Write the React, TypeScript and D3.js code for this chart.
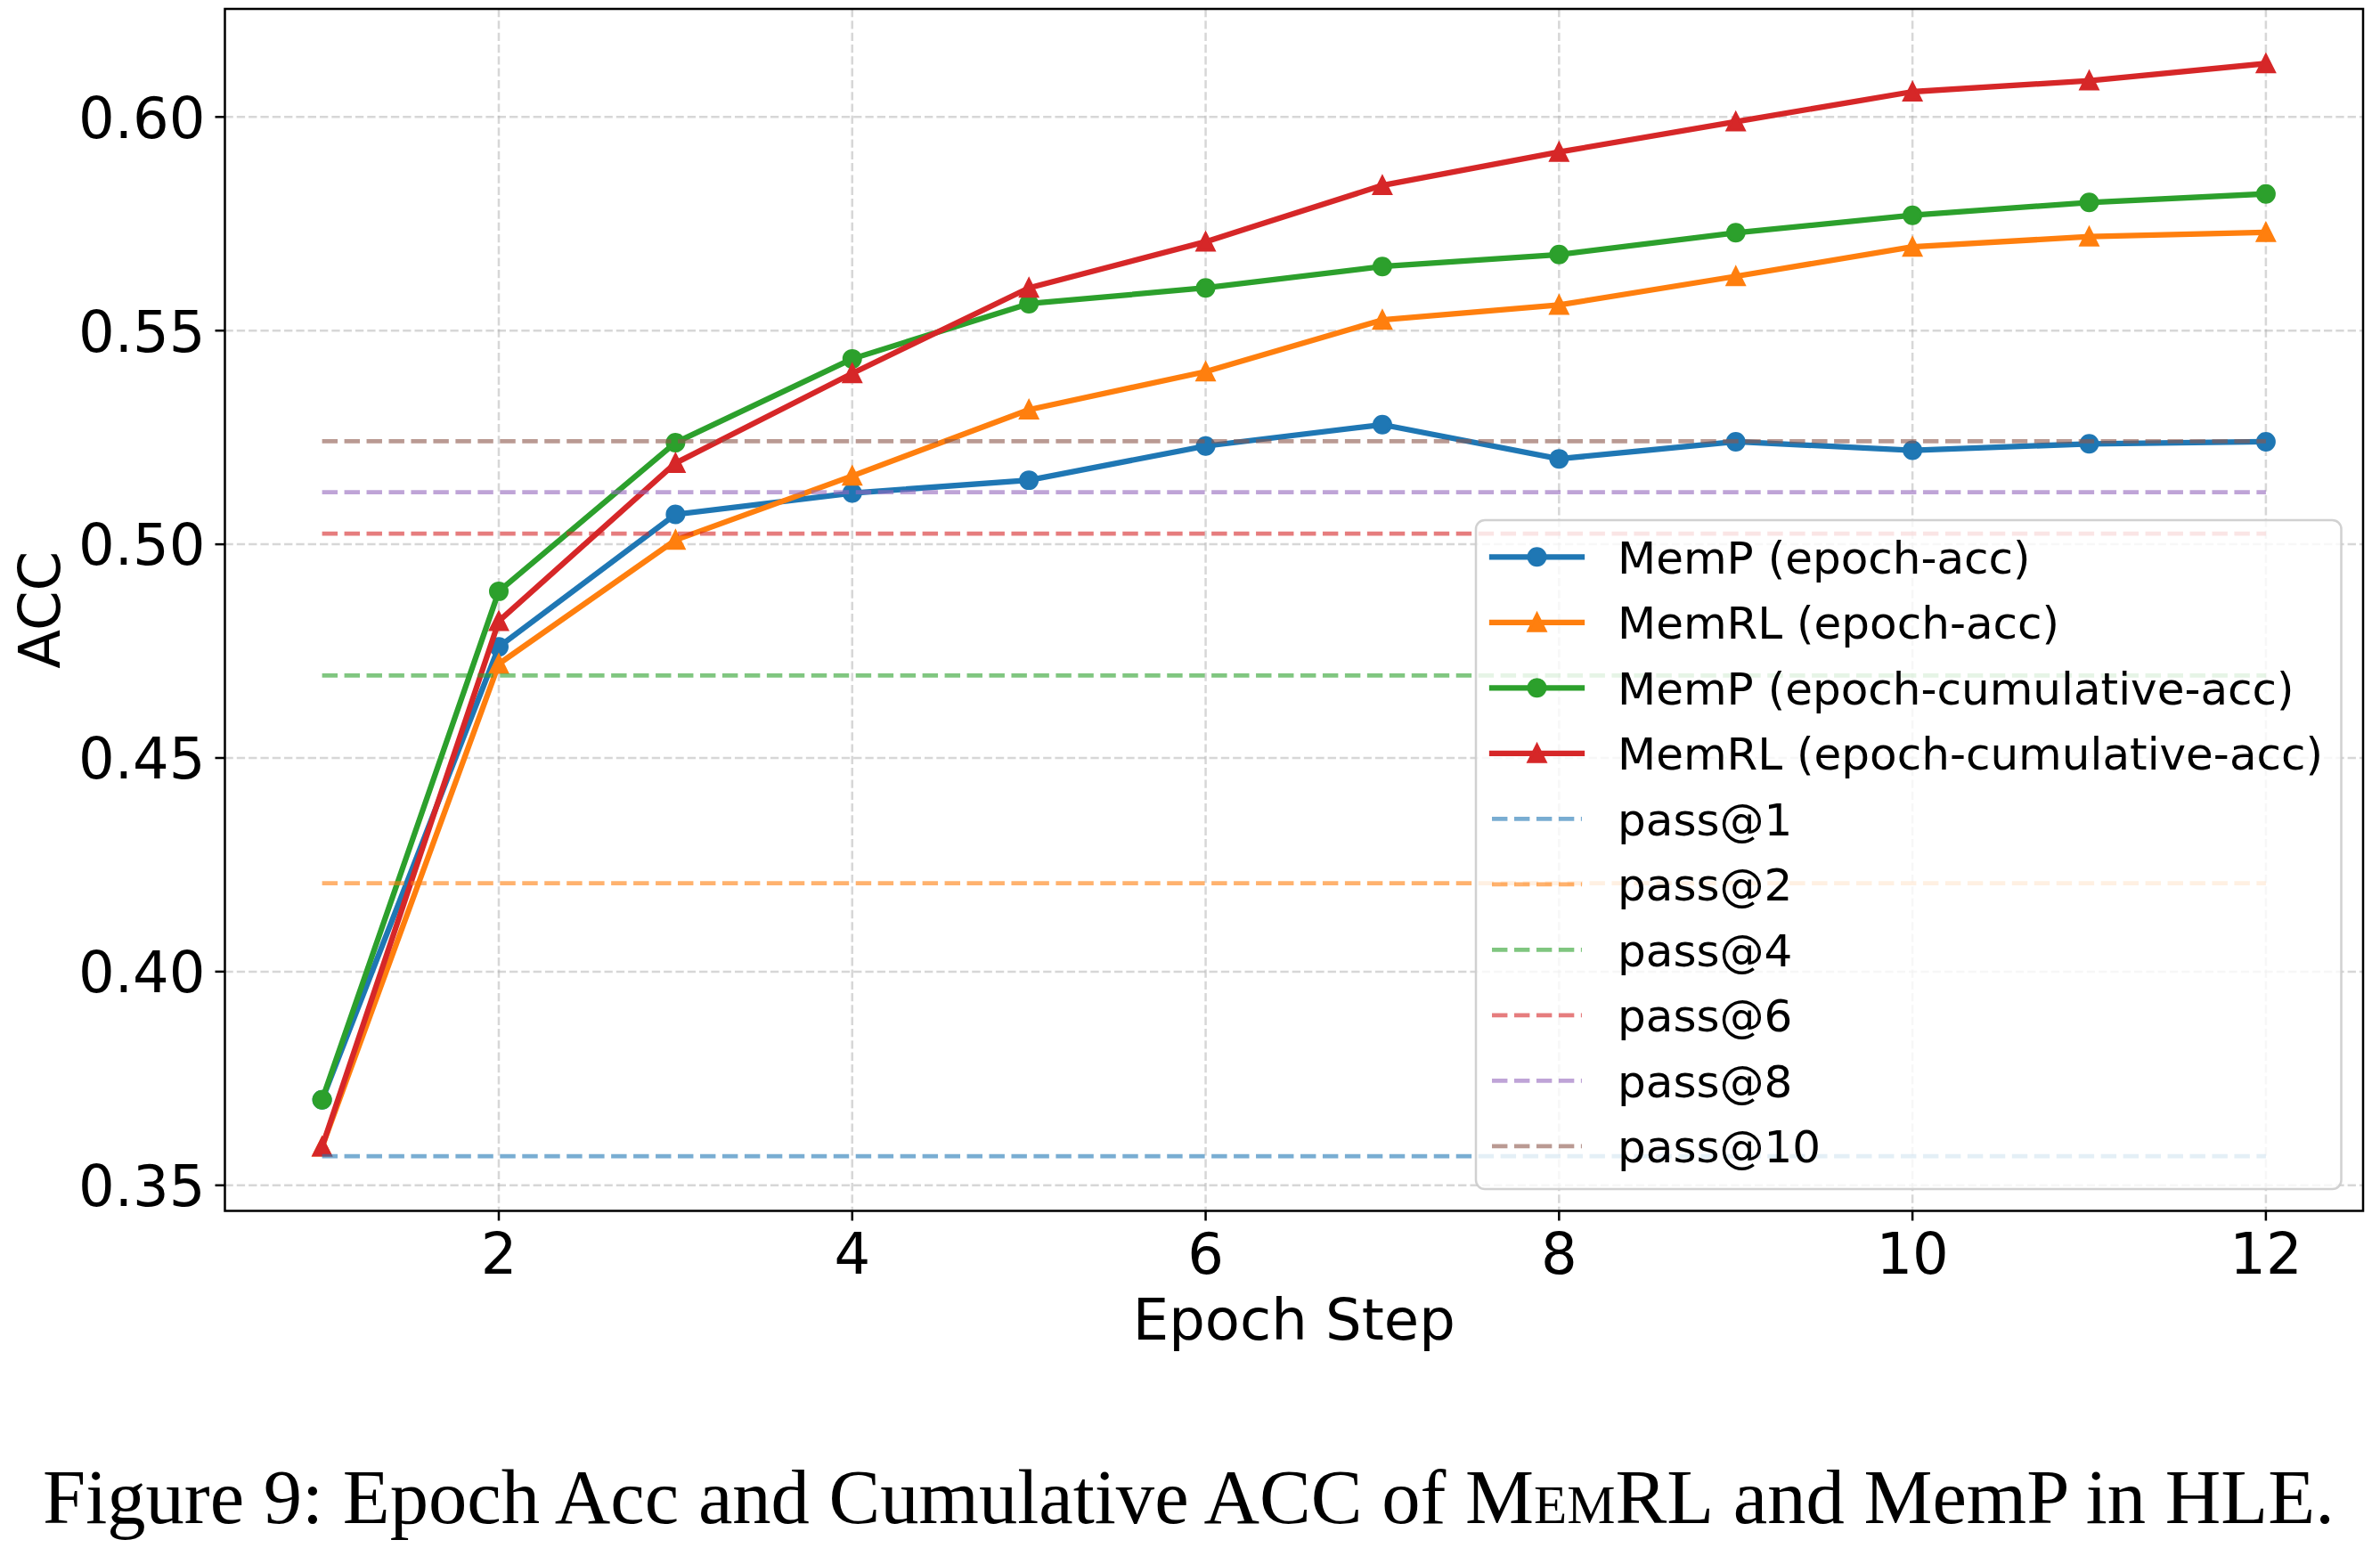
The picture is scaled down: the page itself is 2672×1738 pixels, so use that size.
import React from "react";
import * as d3 from "d3";

const epochs = [1, 2, 3, 4, 5, 6, 7, 8, 9, 10, 11, 12];
const mempEpochAcc = [0.370, 0.476, 0.507, 0.512, 0.515, 0.523, 0.528, 0.520, 0.524, 0.522, 0.5235, 0.524];
const memrlEpochAcc = [0.359, 0.472, 0.501, 0.516, 0.5315, 0.5404, 0.5525, 0.556, 0.5627, 0.5696, 0.572, 0.573];
const mempCumAcc = [0.370, 0.489, 0.5238, 0.5434, 0.5563, 0.560, 0.565, 0.5678, 0.5729, 0.577, 0.580, 0.582];
const memrlCumAcc = [0.359, 0.482, 0.519, 0.540, 0.560, 0.5708, 0.584, 0.5918, 0.5989, 0.6059, 0.6085, 0.6125];

const passLabels = ["pass@1", "pass@2", "pass@4", "pass@6", "pass@8", "pass@10"];
const passValues = [0.3568, 0.4207, 0.4693, 0.5025, 0.5122, 0.5241];
const passColors = ["#1f77b4", "#ff7f0e", "#2ca02c", "#d62728", "#9467bd", "#8c564b"];

const seriesLabels = ["MemP (epoch-acc)", "MemRL (epoch-acc)", "MemP (epoch-cumulative-acc)", "MemRL (epoch-cumulative-acc)"];
const seriesColors = ["#1f77b4", "#ff7f0e", "#2ca02c", "#d62728"];
const seriesMarkers = ["circle", "triangle", "circle", "triangle"];
const seriesData = [mempEpochAcc, memrlEpochAcc, mempCumAcc, memrlCumAcc];

const xTicks = [2, 4, 6, 8, 10, 12];
const yTicks = [0.35, 0.40, 0.45, 0.50, 0.55, 0.60];

const W = 2672;
const H = 1738;
const PT = 3.14;
const L = 252.5, R = 2653, T = 10, B = 1359.5;

function Marker({ type, x, y, color }: { type: string; x: number; y: number; color: string }) {
  const s = 6 * PT;
  if (type === "circle") {
    return <circle cx={x} cy={y} r={s / 2} fill={color} stroke={color} strokeWidth={PT} />;
  }
  const h = s / 2;
  const d = `M${x},${y - h}L${x - h},${y + h}L${x + h},${y + h}Z`;
  return <path d={d} fill={color} stroke={color} strokeWidth={PT} strokeLinejoin="miter" />;
}

export default function App() {
  const allVals = [...seriesData.flat(), ...passValues];
  const yMin = d3.min(allVals)!;
  const yMax = d3.max(allVals)!;
  const yPad = (yMax - yMin) * 0.05;
  const xMin = d3.min(epochs)!;
  const xMax = d3.max(epochs)!;
  const xPad = (xMax - xMin) * 0.05;

  const x = d3.scaleLinear().domain([xMin - xPad, xMax + xPad]).range([L, R]);
  const y = d3.scaleLinear().domain([yMin - yPad, yMax + yPad]).range([B, T]);

  const line = d3
    .line<number>()
    .x((_, i) => x(epochs[i]))
    .y((d) => y(d));

  const tickFont = 64;
  const legFont = 50;
  const gridDash = `${3.7 * 0.8 * PT},${1.6 * 0.8 * PT}`;
  const passDash = `${3.7 * 1.5 * PT},${1.6 * 1.5 * PT}`;

  const legRight = R - 24.5, legBottom = B - 24.5;
  const legLeft = 1657, legTop = 584;
  const row0 = 625.3, rowStep = 73.5;
  const hx0 = 1675, hx1 = 1776, textX = 1816;

  const legendItems = [
    ...seriesLabels.map((lab, i) => ({ lab, color: seriesColors[i], marker: seriesMarkers[i], dashed: false })),
    ...passLabels.map((lab, i) => ({ lab, color: passColors[i], marker: "", dashed: true })),
  ];

  return (
    <svg width={W} height={H} style={{ position: "absolute", left: 0, top: 0, background: "#fff" }} fontFamily="DejaVu Sans">
      <rect x={0} y={0} width={W} height={H} fill="#fff" />
      {/* grid */}
      <g stroke="#b0b0b0" strokeOpacity={0.5} strokeWidth={0.8 * PT} strokeDasharray={gridDash}>
        {xTicks.map((t) => (
          <line key={"gx" + t} x1={x(t)} x2={x(t)} y1={T} y2={B} />
        ))}
        {yTicks.map((t) => (
          <line key={"gy" + t} x1={L} x2={R} y1={y(t)} y2={y(t)} />
        ))}
      </g>
      {/* series */}
      {seriesData.map((data, si) => (
        <g key={"s" + si}>
          <path d={line(data)!} fill="none" stroke={seriesColors[si]} strokeWidth={2 * PT} strokeLinejoin="round" strokeLinecap="square" />
          {data.map((v, i) => (
            <Marker key={i} type={seriesMarkers[si]} x={x(epochs[i])} y={y(v)} color={seriesColors[si]} />
          ))}
        </g>
      ))}
      {/* pass@k lines */}
      {passValues.map((v, i) => (
        <line
          key={"p" + i}
          x1={x(xMin)}
          x2={x(xMax)}
          y1={y(v)}
          y2={y(v)}
          stroke={passColors[i]}
          strokeOpacity={0.6}
          strokeWidth={1.5 * PT}
          strokeDasharray={passDash}
        />
      ))}
      {/* spines */}
      <rect x={L} y={T} width={R - L} height={B - T} fill="none" stroke="#000" strokeWidth={0.8 * PT} />
      {/* x ticks */}
      {xTicks.map((t) => (
        <g key={"xt" + t}>
          <line x1={x(t)} x2={x(t)} y1={B} y2={B + 3.5 * PT} stroke="#000" strokeWidth={0.8 * PT} />
          <text x={x(t)} y={1430} fontSize={tickFont} textAnchor="middle" fill="#000">
            {t}
          </text>
        </g>
      ))}
      {/* y ticks */}
      {yTicks.map((t) => (
        <g key={"yt" + t}>
          <line x1={L - 3.5 * PT} x2={L} y1={y(t)} y2={y(t)} stroke="#000" strokeWidth={0.8 * PT} />
          <text x={L - 7 * PT} y={y(t) + 0.364 * tickFont} fontSize={tickFont} textAnchor="end" fill="#000">
            {t.toFixed(2)}
          </text>
        </g>
      ))}
      {/* axis labels */}
      <text x={(L + R) / 2} y={1504} fontSize={tickFont} textAnchor="middle" fill="#000">
        Epoch Step
      </text>
      <text
        transform={`translate(${67}, ${(T + B) / 2}) rotate(-90)`}
        fontSize={tickFont}
        textAnchor="middle"
        fill="#000"
      >
        ACC
      </text>
      {/* legend */}
      <rect
        x={legLeft}
        y={legTop}
        width={legRight - legLeft}
        height={legBottom - legTop}
        rx={10}
        fill="#fff"
        fillOpacity={0.8}
        stroke="#cccccc"
        strokeOpacity={0.9}
        strokeWidth={0.8 * PT}
      />
      {legendItems.map((it, i) => {
        const cy = row0 + i * rowStep;
        return (
          <g key={"l" + i}>
            {it.dashed ? (
              <line x1={hx0} x2={hx1} y1={cy} y2={cy} stroke={it.color} strokeOpacity={0.6} strokeWidth={1.5 * PT} strokeDasharray={passDash} />
            ) : (
              <>
                <line x1={hx0} x2={hx1} y1={cy} y2={cy} stroke={it.color} strokeWidth={2 * PT} strokeLinecap="square" />
                <Marker type={it.marker} x={(hx0 + hx1) / 2} y={cy} color={it.color} />
              </>
            )}
            <text x={textX} y={cy + 0.364 * legFont} fontSize={legFont} fill="#000">
              {it.lab}
            </text>
          </g>
        );
      })}
      {/* caption */}
      <text x={48} y={1710} fontFamily="Liberation Serif" fontSize={86.6} fill="#000">
        Figure 9: Epoch Acc and Cumulative ACC of <tspan style={{ fontVariant: "small-caps" }}>MemRL</tspan> and MemP in HLE.
      </text>
    </svg>
  );
}
